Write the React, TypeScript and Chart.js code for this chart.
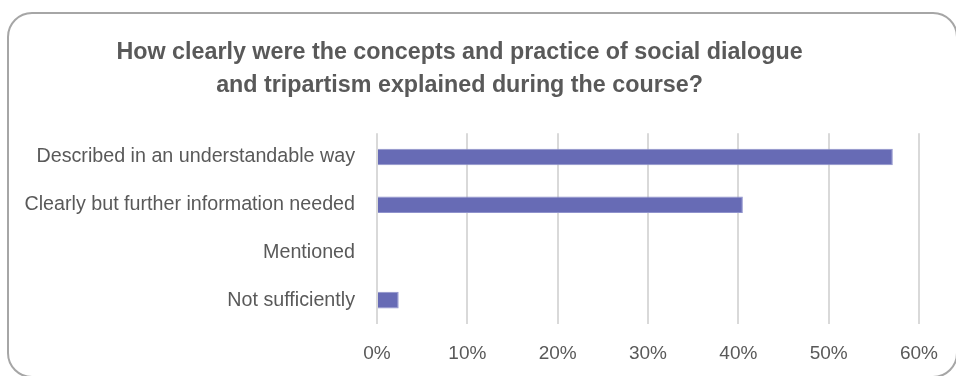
import React, { useEffect, useRef } from "react";
import { Chart, registerables } from "chart.js";

Chart.register(...registerables);

const titleLines = [
  "How clearly were the concepts and practice of social dialogue",
  "and tripartism explained during the course?",
];
const categories = [
  "Described in an understandable way",
  "Clearly but further information needed",
  "Mentioned",
  "Not sufficiently",
];
const shares = [57.1, 40.5, 0, 2.4];
const xTicks = [0, 10, 20, 30, 40, 50, 60];

const TEXT = "#595959";
const FONT = "'Liberation Sans', Arial, sans-serif";

export default function App() {
  const ref = useRef<HTMLCanvasElement | null>(null);

  useEffect(() => {
    if (!ref.current) return;
    const chart = new Chart(ref.current, {
      type: "bar",
      data: {
        labels: categories,
        datasets: [
          {
            data: shares,
            backgroundColor: "#676BB5",
            borderColor: "#8f92cc",
            borderWidth: 1,
            barPercentage: 0.35,
            categoryPercentage: 1,
          },
        ],
      },
      options: {
        indexAxis: "y",
        animation: false,
        responsive: false,
        maintainAspectRatio: false,
        layout: { padding: { left: 0, right: 37, top: 0, bottom: 0 } },
        plugins: {
          legend: { display: false },
          tooltip: { enabled: false },
          title: {
            display: true,
            text: titleLines,
            color: TEXT,
            font: { family: FONT, size: 23.3, weight: "bold", lineHeight: 1.42 },
            padding: { top: 36, bottom: 31 },
          },
        },
        scales: {
          x: {
            min: 0,
            max: 60,
            afterBuildTicks: (scale: any) => {
              scale.ticks = xTicks.map((v) => ({ value: v }));
            },
            afterFit: (scale: any) => {
              scale.height = 52;
            },
            grid: { color: "#d9d9d9", lineWidth: 2, drawTicks: false },
            border: { display: false },
            ticks: {
              color: TEXT,
              font: { family: FONT, size: 19 },
              padding: 18,
              callback: (v: any) => v + "%",
            },
          },
          y: {
            afterFit: (scale: any) => {
              scale.width = 377;
            },
            grid: { display: false },
            border: { display: false },
            ticks: {
              color: TEXT,
              font: { family: FONT, size: 19.7 },
              padding: 14,
            },
          },
        },
      },
    });
    return () => chart.destroy();
  }, []);

  return (
    <div style={{ position: "absolute", left: 0, top: 0, width: 956, height: 376, overflow: "hidden", background: "#fff" }}>
      <canvas ref={ref} width={956} height={376} style={{ position: "absolute", left: 0, top: 0 }} />
      <div
        style={{
          position: "absolute",
          left: 7,
          top: 12,
          width: 951,
          height: 366,
          border: "2px solid #a6a6a6",
          borderRadius: 25,
          boxSizing: "border-box",
          pointerEvents: "none",
        }}
      />
    </div>
  );
}
